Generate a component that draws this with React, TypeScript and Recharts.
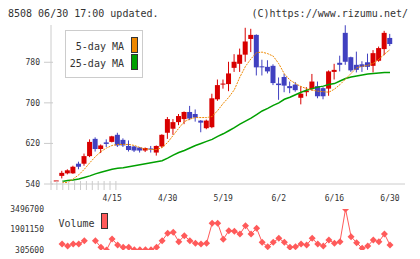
import React from 'react';
import { ComposedChart, LineChart, Bar, Line, XAxis, YAxis } from 'recharts';

// 61 trading days, 4/1 .. 6/30
const dates = [
  '4/1', '4/2', '4/3', '4/6', '4/7', '4/8', '4/9', '4/10', '4/13', '4/14',
  '4/15', '4/16', '4/17', '4/20', '4/21', '4/22', '4/23', '4/24', '4/27', '4/28',
  '4/30', '5/1', '5/7', '5/8', '5/11', '5/12', '5/13', '5/14', '5/15', '5/18',
  '5/19', '5/20', '5/21', '5/22', '5/25', '5/26', '5/27', '5/28', '5/29', '6/1',
  '6/2', '6/3', '6/4', '6/5', '6/8', '6/9', '6/10', '6/11', '6/12', '6/15',
  '6/16', '6/17', '6/18', '6/19', '6/22', '6/23', '6/24', '6/25', '6/26', '6/29',
  '6/30',
];

const opens = [
  547, 556, 561, 561, 580, 580, 595, 629, 609, 622,
  623, 637, 627, 615, 614, 612, 606, 610, 602, 614,
  641, 649, 662, 668, 682, 678, 665, 650, 652, 707,
  736, 737, 769, 777, 795, 826, 834, 772, 771, 773,
  738, 751, 733, 736, 710, 721, 727, 733, 729, 728,
  761, 779, 838, 790, 775, 776, 780, 773, 783, 806,
  828,
];
const highs = [
  547, 566, 569, 576, 584, 600, 628, 632, 618, 628,
  635, 641, 630, 626, 615, 613, 612, 615, 616, 638,
  672, 668, 678, 683, 694, 687, 666, 667, 718, 746,
  746, 781, 796, 807, 848, 846, 835, 785, 784, 776,
  750, 757, 742, 741, 733, 731, 757, 742, 731, 764,
  777, 793, 853, 791, 801, 782, 797, 804, 811, 842,
  836,
];
const lows = [
  547, 551, 559, 560, 569, 576, 593, 604, 601, 613,
  622, 613, 613, 604, 603, 602, 603, 602, 596, 611,
  629, 637, 656, 658, 666, 663, 642, 648, 650, 704,
  728, 723, 761, 761, 781, 800, 754, 754, 758, 735,
  706, 721, 719, 722, 697, 713, 724, 709, 707, 714,
  746, 762, 775, 761, 760, 761, 765, 760, 781, 794,
  812,
];
const closes = [
  547, 562, 567, 574, 574, 595, 623, 609, 616, 619,
  634, 616, 616, 607, 606, 606, 611, 609, 615, 637,
  668, 662, 674, 682, 669, 671, 661, 665, 709, 735,
  738, 758, 781, 795, 821, 834, 770, 770, 762, 739,
  735, 734, 729, 725, 718, 724, 742, 713, 713, 762,
  765, 775, 781, 764, 765, 771, 771, 798, 808, 838,
  816,
];

const ma5 = [
  null, 543, 543, 550, 558, 569, 582, 594, 604, 611,
  616, 618, 618, 618, 616, 612, 609, 608, 608, 612,
  622, 636, 650, 663, 668, 671, 671, 671, 673, 685,
  699, 711, 726, 751, 772, 787, 799, 800, 797, 792,
  777, 757, 745, 738, 732, 728, 725, 723, 722, 721,
  727, 736, 747, 758, 769, 772, 774, 778, 786, 796,
  805,
];
const ma25 = [
  null, 545, 547, 548, 550, 553, 556, 560, 563, 566,
  569, 571, 572, 574, 576, 578, 580, 582, 584, 586,
  591, 597, 602, 606, 611, 616, 620, 624, 628, 634,
  639, 645, 651, 658, 664, 670, 677, 684, 689, 695,
  700, 707, 711, 716, 721, 725, 728, 731, 733, 736,
  738, 743, 748, 751, 753, 755, 757, 758, 759, 760,
  760,
];

const volumes = [
  null, 772600, 617000, 772600, 772600, 1029000, null, 1029000, 516000, 305600,
  1162000, 695000, 516000, 516000, 330000, 330000, 330000, 330000, 516000, 1029000,
  1605000, 1683000, 952000, 1419000, 1029000, 827000, 773000, 827000, 2384000, 2384000,
  1138000, 1808000, 1761000, 1551000, 2197000, 1551000, 1994000, 905000, 562000, 905000,
  1216000, 905000, 516000, 562000, 773000, 695000, 1216000, 773000, 617000, 1084000,
  827000, 952000, 3496700, 1341000, 874000, 438000, 617000, 1084000, 952000, 1551000,
  695000,
];

const dateTicks = ['4/15', '4/30', '5/19', '6/2', '6/16', '6/30'];
const priceTicks = [540, 620, 700, 780];
const volumeTicks = [305600, 1901150, 3496700];
const gridTicks = [0, 1, 2, 3, 4, 5, 6, 7, 8, 9, 10, 11];

const UP = '#d80000';
const DOWN = '#4040c0';
const ORANGE = '#ee8800';
const GREEN = '#00a000';
const VOL = '#ff5a5a';
const AXIS = '#cccccc';
const TEXT = '#333333';
const FONT = '"DejaVu Sans Mono", monospace';

const data = dates.map((d, i) => ({
  d,
  open: opens[i],
  high: highs[i],
  low: lows[i],
  close: closes[i],
  range: [lows[i], highs[i]],
  ma5: ma5[i],
  ma25: ma25[i],
  vol: volumes[i],
}));

const Candle = (props: any) => {
  const { x, y, width, height, payload } = props;
  const top = Math.min(y, y + height);
  const h = Math.abs(height);
  const { open, close, high, low } = payload;
  const py = (v: number) => (high === low ? top : top + ((high - v) / (high - low)) * h);
  const color = close >= open ? UP : DOWN;
  const cx = x + width / 2;
  const bTop = py(Math.max(open, close));
  const bBot = py(Math.min(open, close));
  return (
    <g>
      <line x1={cx} x2={cx} y1={top} y2={top + h} stroke={color} strokeWidth={1} />
      <rect x={x} y={bTop} width={width} height={Math.max(1, bBot - bTop)} fill={color} />
    </g>
  );
};

const Diamond = (props: any) => {
  const { cx, cy, value } = props;
  if (value == null || cx == null || cy == null) return <g />;
  const r = 3.5;
  return <polygon points={`${cx},${cy - r} ${cx + r},${cy} ${cx},${cy + r} ${cx - r},${cy}`} fill={VOL} />;
};

const GridTick = ({ x, y }: any) => (
  <line x1={x} x2={x} y1={y - 3} y2={y + 6} stroke={AXIS} />
);

const DateTick = ({ x, y, payload }: any) => (
  <text x={x} y={y + 17} textAnchor="middle" fontSize={8} fontFamily={FONT} fill={TEXT}>
    {payload.value}
  </text>
);

const PriceTick = ({ x, y, payload }: any) => (
  <g>
    <line x1={x - 7} x2={x + 2} y1={y} y2={y} stroke={AXIS} />
    <text x={x - 11} y={y + 3} textAnchor="end" fontSize={8} fontFamily={FONT} fill={TEXT}>
      {payload.value}
    </text>
  </g>
);

const VolumeTick = ({ x, y, payload }: any) => (
  <text x={x - 7} y={y + 2.5} textAnchor="end" fontSize={8} fontFamily={FONT} fill={TEXT}>
    {payload.value}
  </text>
);

const App = () => {
  return (
    <div style={{ position: 'absolute', left: 0, top: 0, width: 420, height: 259, background: '#fff' }}>
      <div style={{ position: 'absolute', left: 0, top: 0 }}>
        <ComposedChart width={420} height={259} data={data} margin={{ top: 25, right: 15, bottom: 74.98, left: 11 }}>
          <XAxis
            xAxisId="grid"
            type="number"
            domain={[0, 11]}
            ticks={gridTicks}
            height={0.01}
            axisLine={false}
            tickLine={false}
            tickSize={0}
            tickMargin={0}
            tick={GridTick}
            interval={0}
            allowDataOverflow
          />
          <XAxis
            dataKey="d"
            type="category"
            scale="band"
            padding={{ left: 2.72, right: 12.22 }}
            ticks={dateTicks}
            interval={0}
            height={0.01}
            axisLine={{ stroke: AXIS }}
            tickLine={false}
            tickSize={0}
            tickMargin={0}
            tick={DateTick}
          />
          <YAxis
            domain={[540, 853.5]}
            ticks={priceTicks}
            width={40}
            axisLine={{ stroke: AXIS }}
            tickLine={false}
            tickSize={0}
            tickMargin={0}
            tick={PriceTick}
            interval={0}
            allowDataOverflow
          />
          <Bar dataKey="range" barSize={5} shape={<Candle />} isAnimationActive={false} />
          <Line dataKey="ma25" stroke={GREEN} strokeWidth={1.5} dot={false} isAnimationActive={false} />
          <Line dataKey="ma5" stroke={ORANGE} strokeWidth={1} strokeDasharray="2 1" dot={false} isAnimationActive={false} />
        </ComposedChart>
      </div>
      <div style={{ position: 'absolute', left: 0, top: 0 }}>
        <LineChart width={420} height={259} data={data} margin={{ top: 209, right: 15, bottom: 9, left: 11 }}>
          <XAxis dataKey="d" type="category" scale="point" padding={{ left: 5.5, right: 15 }} hide />
          <YAxis
            domain={[305600, 3496700]}
            ticks={volumeTicks}
            width={40}
            axisLine={false}
            tickLine={false}
            tickSize={0}
            tickMargin={0}
            tick={VolumeTick}
            interval={0}
            allowDataOverflow
          />
          <Line dataKey="vol" stroke={VOL} strokeWidth={1} dot={<Diamond />} isAnimationActive={false} />
        </LineChart>
      </div>
      <svg width={420} height={259} style={{ position: 'absolute', left: 0, top: 0 }}>
        <text x={8} y={16.5} fontSize={10} fontFamily={FONT} fill={TEXT}>8508 06/30 17:00 updated.</text>
        <text x={408} y={16.5} textAnchor="end" fontSize={10} fontFamily={FONT} fill={TEXT}>(C)https://www.rizumu.net/</text>
        <rect x={65.5} y={30.5} width={77} height={47} fill="#fff" stroke={AXIS} />
        <text x={124} y={50} textAnchor="end" fontSize={10} fontFamily={FONT} fill={TEXT}>5-day MA</text>
        <rect x={131.5} y={37.5} width={6} height={15} fill={ORANGE} stroke="#333" />
        <text x={124} y={67} textAnchor="end" fontSize={10} fontFamily={FONT} fill={TEXT}>25-day MA</text>
        <rect x={131.5} y={54.5} width={6} height={15} fill={GREEN} stroke="#333" />
        <text x={58.5} y={226.5} fontSize={10} fontFamily={FONT} fill={TEXT}>Volume</text>
        <rect x={101.5} y={213.5} width={6} height={15} fill={VOL} stroke="#333" />
      </svg>
    </div>
  );
};

export default App;
